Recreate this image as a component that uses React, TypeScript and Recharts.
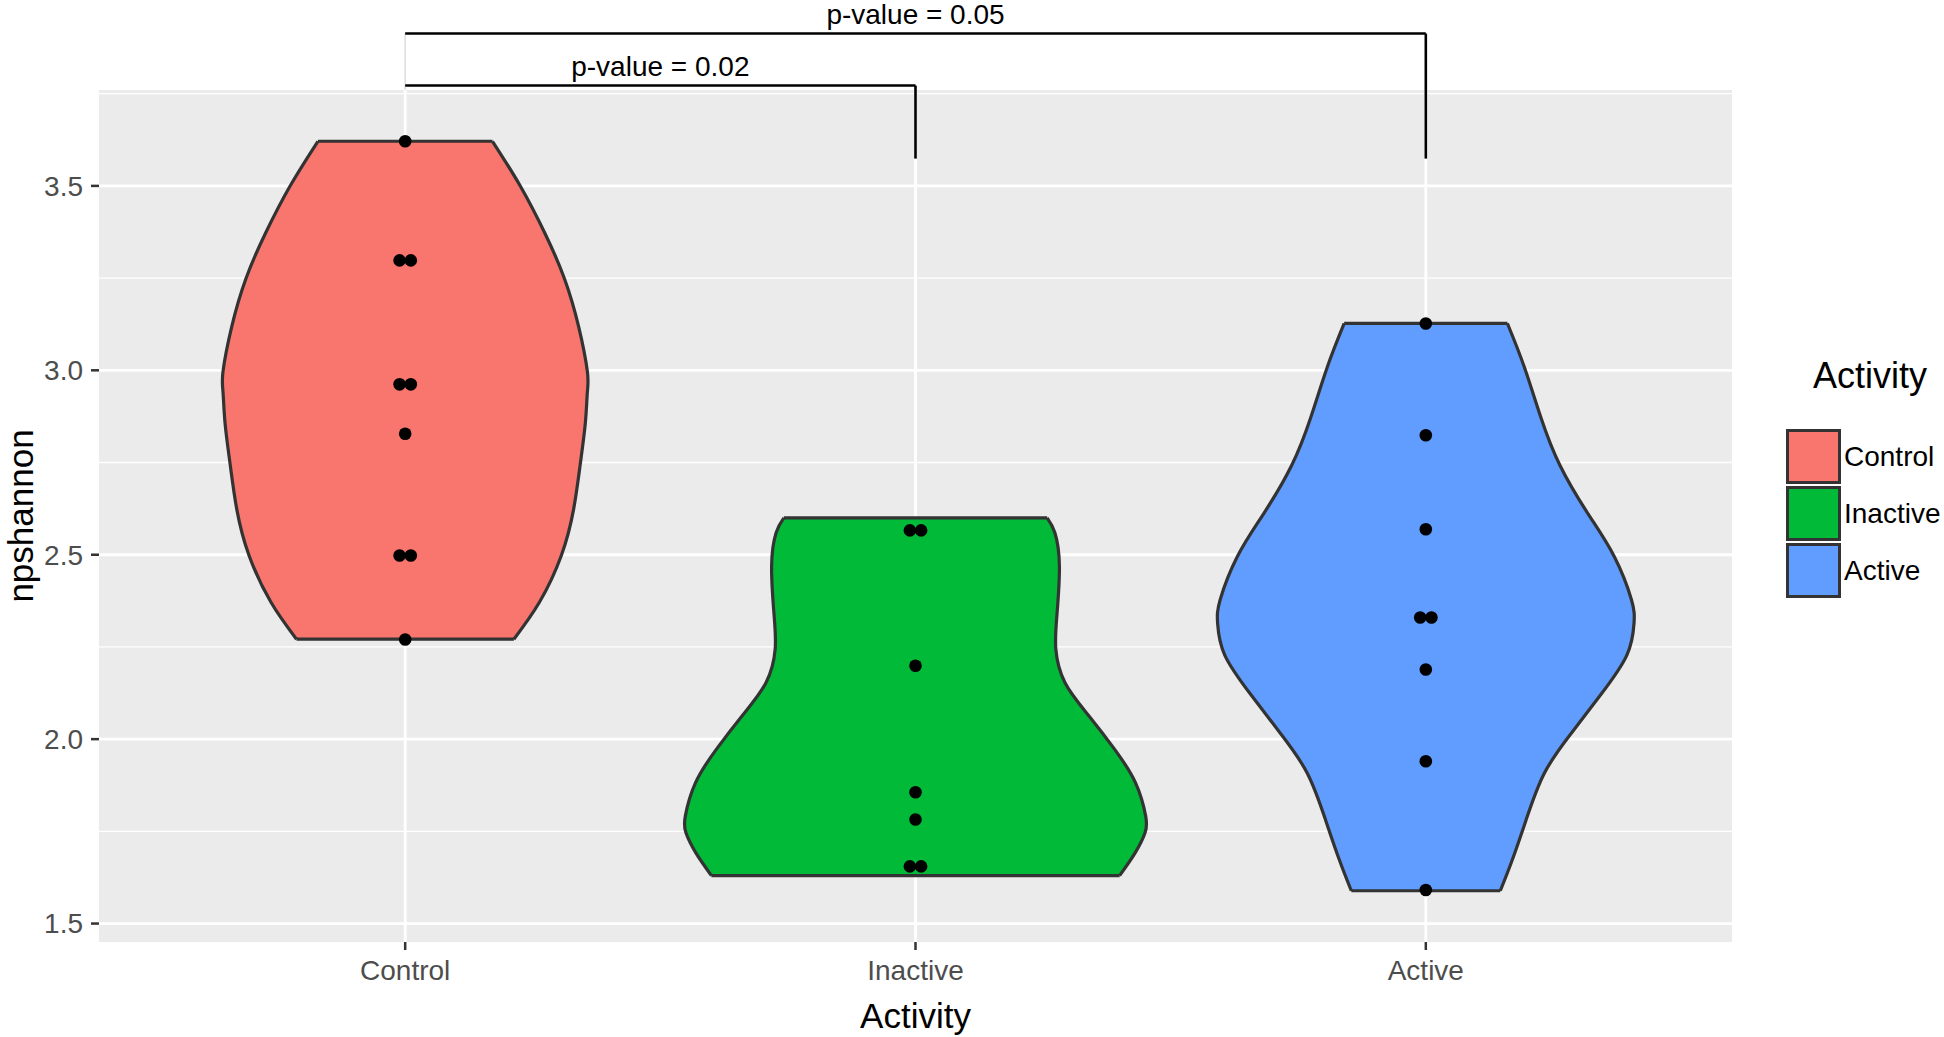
import {
  ComposedChart, Area, Scatter, XAxis, YAxis, CartesianGrid,
  ReferenceLine, Legend
} from "recharts";

const font = "'Liberation Sans', Arial, sans-serif";

const groups = ["Control", "Inactive", "Active"];
const colors = ["#F8766D", "#00BA38", "#619CFF"];

// violin outlines: npshannon level -> half width (x units)
const controlLevels = [2.271, 2.371, 2.498, 2.623, 2.745, 2.857, 2.941, 2.997, 3.118, 3.249, 3.371, 3.501, 3.621];
const controlHalf = [0.213, 0.263, 0.306, 0.330, 0.343, 0.353, 0.357, 0.357, 0.340, 0.312, 0.274, 0.225, 0.171];

const inactiveLevels = [1.630, 1.693, 1.747, 1.792, 1.882, 1.973, 2.063, 2.153, 2.244, 2.334, 2.469, 2.560, 2.600];
const inactiveHalf = [0.400, 0.431, 0.450, 0.451, 0.431, 0.390, 0.340, 0.293, 0.275, 0.277, 0.282, 0.273, 0.258];

const activeLevels = [1.589, 1.671, 1.779, 1.907, 2.014, 2.121, 2.228, 2.314, 2.378, 2.496, 2.613, 2.742, 2.870, 3.009, 3.127];
const activeHalf = [0.146, 0.169, 0.196, 0.232, 0.284, 0.343, 0.394, 0.408, 0.403, 0.369, 0.317, 0.263, 0.226, 0.193, 0.160];

// observations
const controlPoints = [3.621, 3.298, 3.298, 2.962, 2.962, 2.828, 2.498, 2.498, 2.270];
const inactivePoints = [2.566, 2.566, 2.199, 1.856, 1.782, 1.655, 1.655];
const activePoints = [3.127, 2.824, 2.569, 2.330, 2.330, 2.189, 1.940, 1.591];

const yTicks = [1.5, 2.0, 2.5, 3.0, 3.5];
const yMinor = [1.75, 2.25, 2.75, 3.25, 3.75];

const comparisons = [
  { from: 1, to: 2, label: "p-value = 0.02", level: 3.772 },
  { from: 1, to: 3, label: "p-value = 0.05", level: 3.913 },
];
const bracketFoot = 3.574;
const panelTop = 3.76;

const violins = [
  { key: "control", levels: controlLevels, half: controlHalf, points: controlPoints },
  { key: "inactive", levels: inactiveLevels, half: inactiveHalf, points: inactivePoints },
  { key: "active", levels: activeLevels, half: activeHalf, points: activePoints },
];

const outline = (levels: number[], half: number[], center: number) =>
  levels.map((y, j) => ({ y, band: [center - half[j], center + half[j]] }));

// equal values are stacked side by side like a centred dotplot
const dotRows = (vals: number[], center: number) =>
  vals.map((y, i) => {
    const same = vals.filter((v) => v === y).length;
    const k = vals.slice(0, i).filter((v) => v === y).length;
    return { x: center + (k - (same - 1) / 2) * 0.022, y };
  });

const Dot = (p: any) => <circle cx={p.cx} cy={p.cy} r={6.3} fill="#000" />;

const ActivityLegend = () => (
  <div style={{ fontFamily: font, color: "#000", whiteSpace: "nowrap" }}>
    <div style={{ fontSize: 36, lineHeight: "36px", marginLeft: 27, marginBottom: 34 }}>Activity</div>
    {groups.map((g, i) => (
      <div key={g} style={{ display: "flex", alignItems: "center", height: 57 }}>
        <div style={{
          width: 55, height: 55, boxSizing: "border-box",
          border: "3px solid #333", background: colors[i]
        }} />
        <span style={{ fontSize: 28, marginLeft: 3 }}>{g}</span>
      </div>
    ))}
  </div>
);

const App = () => {
  return (
    <div style={{ position: "absolute", left: 0, top: 0, fontFamily: font, background: "#fff" }}>
      <ComposedChart
        width={1944}
        height={1037}
        layout="vertical"
        margin={{ top: 90, right: 212, bottom: 0, left: 0 }}
      >
        <CartesianGrid
          fill="#EBEBEB"
          stroke="#FFFFFF"
          strokeWidth={1.3}
          vertical={false}
          horizontalValues={yMinor}
        />
        <CartesianGrid
          stroke="#FFFFFF"
          strokeWidth={2.8}
          horizontalValues={yTicks}
          verticalValues={[1, 2, 3]}
        />
        <XAxis
          type="number"
          dataKey="x"
          domain={[0.4, 3.6]}
          allowDataOverflow
          ticks={[1, 2, 3]}
          tickFormatter={(v) => groups[v - 1]}
          height={95}
          axisLine={false}
          tickSize={8}
          tickMargin={10}
          tickLine={{ stroke: "#333", strokeWidth: 2.5 }}
          tick={{ fill: "#4D4D4D", fontSize: 28 }}
          label={{ value: "Activity", position: "insideBottom", offset: 9, fill: "#000", fontSize: 35 }}
        />
        <YAxis
          type="number"
          dataKey="y"
          domain={[1.45, panelTop]}
          allowDataOverflow
          reversed
          ticks={yTicks}
          tickFormatter={(v) => v.toFixed(1)}
          width={99}
          axisLine={false}
          tickSize={8}
          tickMargin={8}
          tickLine={{ stroke: "#333", strokeWidth: 2.5 }}
          tick={{ fill: "#4D4D4D", fontSize: 28 }}
          label={{
            value: "npshannon", angle: -90, position: "insideLeft", offset: 21,
            fill: "#000", fontSize: 35, style: { textAnchor: "middle" }
          }}
        />
        {violins.map((v, i) => (
          <Area
            key={v.key}
            data={outline(v.levels, v.half, i + 1)}
            dataKey="band"
            type="natural"
            fill={colors[i]}
            fillOpacity={1}
            stroke="#333"
            strokeWidth={3.2}
            dot={false}
            activeDot={false}
            isAnimationActive={false}
          />
        ))}
        {violins.flatMap((v, i) => {
          const last = v.levels.length - 1;
          return [0, last].map((j) => (
            <ReferenceLine
              key={v.key + j}
              segment={[
                { x: i + 1 - v.half[j], y: v.levels[j] },
                { x: i + 1 + v.half[j], y: v.levels[j] },
              ]}
              stroke="#333"
              strokeWidth={3.2}
            />
          ));
        })}
        <ReferenceLine
          segment={[{ x: 1, y: panelTop }, { x: 1, y: comparisons[1].level }]}
          stroke="#DDDDDD"
          strokeWidth={1.5}
          ifOverflow="visible"
        />
        {comparisons.map((c) => (
          <ReferenceLine
            key={c.label}
            segment={[{ x: c.from, y: c.level }, { x: c.to, y: c.level }]}
            stroke="#000"
            strokeWidth={2.6}
            ifOverflow="visible"
            label={{ value: c.label, position: "top", offset: 10, fill: "#000", fontSize: 28 }}
          />
        ))}
        {comparisons.map((c) => (
          <ReferenceLine
            key={c.label + "foot"}
            segment={[{ x: c.to, y: c.level }, { x: c.to, y: bracketFoot }]}
            stroke="#000"
            strokeWidth={2.6}
            ifOverflow="visible"
          />
        ))}
        {violins.map((v, i) => (
          <Scatter
            key={v.key + "pts"}
            data={dotRows(v.points, i + 1)}
            shape={Dot}
            isAnimationActive={false}
          />
        ))}
        <Legend
          layout="vertical"
          verticalAlign="middle"
          align="center"
          content={() => <ActivityLegend />}
          wrapperStyle={{ left: 1786, top: 358, width: 158 }}
        />
      </ComposedChart>
    </div>
  );
};

export default App;
